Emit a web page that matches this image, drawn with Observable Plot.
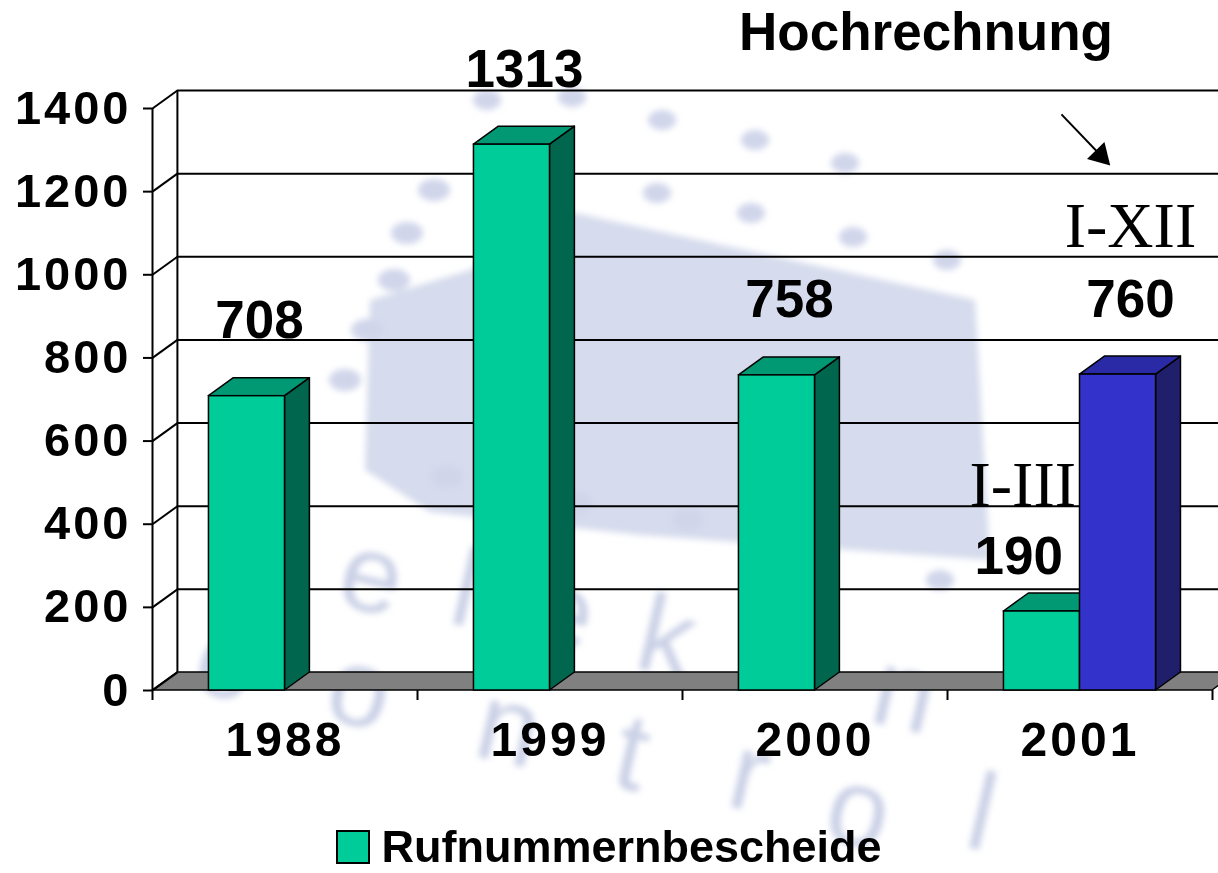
<!DOCTYPE html>
<html><head><meta charset="utf-8">
<script src="https://cdn.jsdelivr.net/npm/d3@7"></script>
<script src="https://cdn.jsdelivr.net/npm/@observablehq/plot@0.6"></script>
<style>
html,body{margin:0;padding:0;background:#fff;overflow:hidden;width:1218px;height:873px;}
#wrap{position:relative;width:1218px;height:873px;font-family:"Liberation Sans",Arial,sans-serif;}
#wm{position:absolute;left:0;top:0;}
#chart{position:absolute;left:0;top:0;}
#title{position:absolute;left:926px;top:5px;transform:translateX(-50%);font-size:53px;line-height:53px;font-weight:bold;white-space:nowrap;}
#legend{position:absolute;left:0;top:824px;width:1218px;display:flex;justify-content:center;align-items:center;height:45px;}
#legend .sw{width:30px;height:30px;border:2px solid #000;margin-right:11px;}
#legend .lb{font-size:45px;line-height:45px;font-weight:bold;}
</style></head><body>
<div id="wrap">
<svg id="wm" width="1218" height="873" aria-hidden="true">
  <defs><filter id="bl"><feGaussianBlur stdDeviation="3"/></filter></defs>
  <g filter="url(#bl)" fill="#d6dbed">
    <polygon points="575,213 975,300 990,560 640,535 430,512 365,470 370,300 470,270"/>
    <g fill="#d0d5ea">
      <ellipse cx="434" cy="190" rx="16" ry="11"/><ellipse cx="407" cy="233" rx="16" ry="11"/>
      <ellipse cx="394" cy="280" rx="16" ry="11"/><ellipse cx="367" cy="330" rx="16" ry="11"/>
      <ellipse cx="345" cy="380" rx="16" ry="11"/><ellipse cx="447" cy="477" rx="16" ry="11"/>
      <ellipse cx="577" cy="503" rx="16" ry="11"/><ellipse cx="688" cy="520" rx="16" ry="11"/>
      <ellipse cx="662" cy="120" rx="14" ry="10"/><ellipse cx="755" cy="140" rx="14" ry="10"/>
      <ellipse cx="845" cy="163" rx="14" ry="10"/><ellipse cx="657" cy="193" rx="14" ry="10"/>
      <ellipse cx="751" cy="213" rx="14" ry="10"/><ellipse cx="853" cy="237" rx="14" ry="10"/>
      <ellipse cx="947" cy="260" rx="14" ry="10"/><ellipse cx="487" cy="100" rx="14" ry="10"/>
      <ellipse cx="572" cy="97" rx="14" ry="10"/><ellipse cx="940" cy="580" rx="14" ry="10"/>
    </g>
  </g>
  <g fill="#cad0e6" font-family="Liberation Sans, Arial, sans-serif" font-size="110" filter="url(#bl)">
    <text transform="translate(334,604) rotate(13)">e</text>
    <text transform="translate(446,622) rotate(13)">l</text>
    <text transform="translate(525,640) rotate(13)">e</text>
    <text transform="translate(632,667) rotate(13)">k</text>
    <text transform="translate(867,721) rotate(13)">n</text>
    <text transform="translate(190,690) rotate(13)">c</text>
    <text transform="translate(322,718) rotate(13)">o</text>
    <text transform="translate(471,755) rotate(13)">n</text>
    <text transform="translate(609,785) rotate(13)">t</text>
    <text transform="translate(724,805) rotate(13)">r</text>
    <text transform="translate(821,838) rotate(13)">o</text>
    <text transform="translate(962,846) rotate(13)">l</text>
  </g>
</svg>
<div id="chart"></div><div id="title"></div><div id="legend"></div></div>
<script>
// ---- data ----
const years = ["1988", "1999", "2000", "2001"];
const seriesNames = ["Rufnummernbescheide", "Hochrechnung"];
const bescheide = [708, 1313, 758, 190];
const hochrechnung = [null, null, null, 760];
const periodBescheide = [null, null, null, "I-III"];
const periodHochrechnung = [null, null, null, "I-XII"];
const yTicks = [0, 200, 400, 600, 800, 1000, 1200, 1400];
const titleText = "Hochrechnung";
const arrowNote = [{x1: 3.43, y1: 1386, x2: 3.604, y2: 1270}];

// ---- style ----
const faceColors = [
  {front: "#00CC99", top: "#009973", side: "#00664D"},
  {front: "#3333CC", top: "#2A2AA6", side: "#1F1F6B"}
];
const barW = 0.287;      // bar width as fraction of a category band
const depthX = 0.094;    // 3D depth, x (band units)
const depthY = 43.3;     // 3D depth, y (value units)
const n = years.length;

const seriesValues = [bescheide, hochrechnung];
const seriesPeriods = [periodBescheide, periodHochrechnung];
const bars = [];
seriesValues.forEach((vals, k) => vals.forEach((v, i) => {
  if (v == null) return;
  const x1 = i + 0.5 - barW + k * barW;
  bars.push({id: `${k}-${i}`, k, i, year: years[i], series: seriesNames[k], value: v,
    x1, x2: x1 + barW, period: seriesPeriods[k][i],
    blocked: k === 0 && seriesValues.slice(1).some(s => s[i] != null)});
}));

const floor = [{y: 0, x1: 0, x2: n}, {y: depthY, x1: depthX, x2: n + depthX}];

function barMarks(k) {
  const bs = bars.filter(b => b.k === k);
  const c = faceColors[k];
  const side = bs.flatMap(b => [
    {id: b.id, x: b.x2, y1: 0, y2: b.value},
    {id: b.id, x: b.x2 + depthX, y1: depthY, y2: b.value + depthY}]);
  const top = bs.flatMap(b => [
    {id: b.id, y: b.value, x1: b.x1, x2: b.x2},
    {id: b.id, y: b.value + depthY, x1: b.x1 + depthX, x2: b.x2 + depthX}]);
  return [
    Plot.areaY(side, {x: "x", y1: "y1", y2: "y2", z: "id", fill: c.side, stroke: "#000", strokeWidth: 1.5}),
    Plot.areaX(top, {y: "y", x1: "x1", x2: "x2", z: "id", fill: c.top, stroke: "#000", strokeWidth: 1.5}),
    Plot.rect(bs, {x1: "x1", x2: "x2", y1: 0, y2: "value", fill: c.front, stroke: "#000", strokeWidth: 1.5})
  ];
}

const free = bars.filter(b => !b.blocked);
const blocked = bars.filter(b => b.blocked);
const font = '"Liberation Sans", Arial, sans-serif';
const serif = '"Liberation Serif", "Times New Roman", serif';

const chart = Plot.plot({
  width: 1218, height: 820,
  marginLeft: 152, marginRight: 6, marginTop: 108, marginBottom: 130,
  x: {domain: [0, n], axis: null},
  y: {domain: [0, 1400], axis: null},
  style: {fontFamily: font, background: "transparent", color: "#000"},
  marks: [
    Plot.areaX(floor, {y: "y", x1: "x1", x2: "x2", fill: "#808080", stroke: "#000", strokeWidth: 1.5}),
    Plot.ruleY(yTicks.filter(d => d > 0), {y: d => d + depthY, x1: depthX, x2: n + depthX, stroke: "#000", strokeWidth: 2}),
    Plot.ruleX([depthX], {y1: depthY, y2: 1400 + depthY, stroke: "#000", strokeWidth: 2}),
    Plot.link(yTicks, {x1: 0, x2: depthX, y1: d => d, y2: d => d + depthY, stroke: "#000", strokeWidth: 2}),
    Plot.ruleX([0], {y1: 0, y2: 1400, stroke: "#000", strokeWidth: 2}),
    Plot.axisY({ticks: yTicks, tickSize: 9, tickPadding: 12, fontSize: 47, fontWeight: "bold", tickFormat: d => String(d), strokeWidth: 2}),
    Plot.axisX({ticks: d3.range(n + 1), tickSize: 10, tickFormat: () => "", strokeWidth: 2}),
    Plot.text(years, {x: (d, i) => i + 0.5, y: 0, dy: 50, fontSize: 48, fontWeight: "bold"}),
    ...barMarks(0),
    ...barMarks(1),
    Plot.text(free, {x: b => (b.x1 + b.x2 + depthX) / 2, y: b => b.value + depthY, dy: -40, lineAnchor: "bottom", text: b => String(b.value), fontSize: 53, fontWeight: "bold"}),
    Plot.text(blocked, {x: "x2", y: b => b.value + depthY, dx: -17, dy: -20, textAnchor: "end", lineAnchor: "bottom", text: b => String(b.value), fontSize: 53, fontWeight: "bold"}),
    Plot.text(free.filter(b => b.period), {x: b => (b.x1 + b.x2 + depthX) / 2, y: b => b.value + depthY, dy: -110, lineAnchor: "bottom", text: "period", fontSize: 64, fontFamily: serif}),
    Plot.text(blocked.filter(b => b.period), {x: "x2", y: b => b.value + depthY, dx: -4, dy: -88, textAnchor: "end", lineAnchor: "bottom", text: "period", fontSize: 64, fontFamily: serif}),
    Plot.link(arrowNote, {x1: "x1", y1: "y1", x2: "x2", y2: "y2", stroke: "#000", strokeWidth: 2}),
    Plot.dot(arrowNote, {x: "x2", y: "y2", dx: -7, dy: -7, symbol: "triangle", rotate: 136, r: 9, fill: "#000", stroke: "none"})
  ]
});
// wide letter spacing of axis and category labels
d3.select(chart).selectAll("text")
  .filter(function () { const t = this.textContent; return years.includes(t) || yTicks.map(String).includes(t); })
  .style("letter-spacing", "3px");
document.getElementById("chart").appendChild(chart);
document.getElementById("title").textContent = titleText;
const lg = document.getElementById("legend");
const sw = document.createElement("div"); sw.className = "sw"; sw.style.background = faceColors[0].front;
const lb = document.createElement("div"); lb.className = "lb"; lb.textContent = seriesNames[0];
lg.appendChild(sw); lg.appendChild(lb);
</script>
</body></html>
